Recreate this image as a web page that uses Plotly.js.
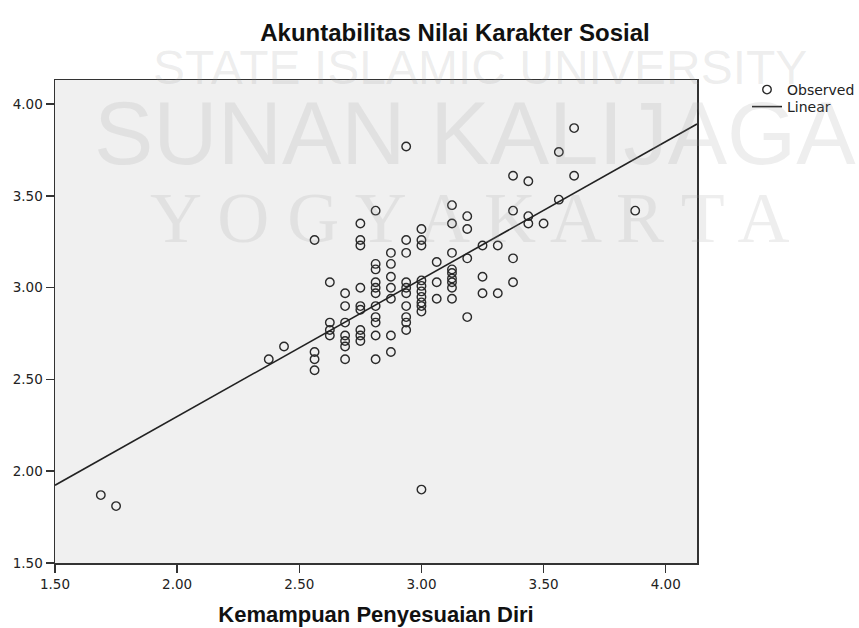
<!DOCTYPE html>
<html>
<head>
<meta charset="utf-8">
<script src="https://cdn.plot.ly/plotly-3.0.1.min.js"></script>
<style>html,body{margin:0;padding:0;background:#fff;}#chart{width:859px;height:628px;}</style>
</head>
<body>
<div id="chart"></div>
<script>
// Distinct x values (Kemampuan Penyesuaian Diri)
const obsXColumns = [1.6875, 1.75, 2.375, 2.4375, 2.5625, 2.625, 2.6875, 2.75, 2.8125, 2.875,
  2.9375, 3.0, 3.0625, 3.125, 3.1875, 3.25, 3.3125, 3.375, 3.4375, 3.5, 3.5625, 3.625, 3.875];
// Observed y values (Akuntabilitas Nilai Karakter Sosial) for each x column
const obsYColumns = [
  [1.87],
  [1.81],
  [2.61],
  [2.68],
  [3.26, 2.65, 2.61, 2.55],
  [3.03, 2.81, 2.77, 2.74],
  [2.97, 2.90, 2.81, 2.74, 2.71, 2.68, 2.61],
  [3.35, 3.26, 3.23, 3.00, 2.90, 2.88, 2.77, 2.74, 2.71],
  [3.42, 3.13, 3.10, 3.03, 3.00, 2.97, 2.90, 2.84, 2.81, 2.74, 2.61],
  [3.19, 3.13, 3.06, 3.00, 2.94, 2.74, 2.65],
  [3.77, 3.26, 3.19, 3.03, 3.00, 2.97, 2.90, 2.84, 2.81, 2.77],
  [3.32, 3.26, 3.23, 3.04, 3.01, 2.98, 2.95, 2.92, 2.90, 2.87, 1.90],
  [3.14, 3.03, 2.94],
  [3.45, 3.35, 3.19, 3.10, 3.08, 3.05, 3.03, 3.00, 2.94],
  [3.39, 3.32, 3.16, 2.84],
  [3.23, 3.06, 2.97],
  [3.23, 2.97],
  [3.61, 3.42, 3.16, 3.03],
  [3.58, 3.39, 3.35],
  [3.35],
  [3.74, 3.48],
  [3.87, 3.61],
  [3.42]
];
// Linear fit
const fitIntercept = 0.800;
const fitSlope = 0.749;
// Axes
const xRange = [1.5, 4.128];
const yRange = [1.5, 4.132];
const xTicks = [1.5, 2.0, 2.5, 3.0, 3.5, 4.0];
const yTicks = [1.5, 2.0, 2.5, 3.0, 3.5, 4.0];
const chartTitle = 'Akuntabilitas Nilai Karakter Sosial';
const xTitle = 'Kemampuan Penyesuaian Diri';
const legendNames = ['Observed', 'Linear'];
const watermarkLines = ['STATE ISLAMIC UNIVERSITY', 'SUNAN KALIJAGA', 'Y O G Y A K A R T A'];

const obsX = [], obsY = [];
obsXColumns.forEach((x, i) => obsYColumns[i].forEach(y => { obsX.push(x); obsY.push(y); }));
const lineX = xRange.slice();
const lineY = lineX.map(x => fitIntercept + fitSlope * x);

const W = 859, H = 628, ML = 55, MR = 162, MT = 80, MB = 65;
const pw = W - ML - MR, ph = H - MT - MB;
const px = v => (v - ML) / pw;
const py = v => (H - MB - v) / ph;

const wmColor = 'rgba(150,150,150,0.16)';
const traces = [
  {x: obsX, y: obsY, type: 'scatter', mode: 'markers', name: legendNames[0], legend: 'legend',
   marker: {symbol: 'circle-open', size: 8.5, color: '#2a2a2a', line: {width: 1.4, color: '#2a2a2a'}},
   hoverinfo: 'x+y'},
  {x: lineX, y: lineY, type: 'scatter', mode: 'lines', name: legendNames[1], legend: 'legend2',
   line: {color: '#222', width: 1.6}}
];

const legendCommon = {xanchor: 'left', yanchor: 'middle', bgcolor: 'rgba(0,0,0,0)',
  font: {size: 14, color: '#222'}, itemwidth: 30, borderwidth: 0};

const layout = {
  width: W, height: H,
  margin: {l: ML, r: MR, t: MT, b: MB, pad: 0, autoexpand: false},
  paper_bgcolor: '#ffffff', plot_bgcolor: '#f0f0f0',
  font: {family: 'DejaVu Sans, sans-serif', color: '#222'},
  title: {text: chartTitle, x: px(455), xref: 'paper', xanchor: 'center', y: 1 - 33 / H, yanchor: 'middle',
          font: {family: 'Liberation Sans, Arial, sans-serif', size: 24, weight: 'bold', color: '#111'}},
  xaxis: {range: xRange, tickvals: xTicks, tickformat: '.2f', ticks: 'outside', ticklen: 8, tickwidth: 1.5,
          tickcolor: '#333', showline: true, mirror: true, linecolor: '#333', linewidth: 1.5,
          showgrid: false, zeroline: false, tickfont: {size: 13.5, color: '#222'}, automargin: false,
          title: {text: xTitle, standoff: 16, font: {family: 'Liberation Sans, Arial, sans-serif', size: 22, weight: 'bold', color: '#111'}}},
  yaxis: {range: yRange, tickvals: yTicks, tickformat: '.2f', ticks: 'outside', ticklen: 8, tickwidth: 1.5,
          tickcolor: '#333', showline: true, mirror: true, linecolor: '#333', linewidth: 1.5, automargin: false,
          showgrid: false, zeroline: false, tickfont: {size: 13.5, color: '#222'}},
  showlegend: true,
  legend: Object.assign({}, legendCommon, {x: px(747), y: py(90)}),
  legend2: Object.assign({}, legendCommon, {x: px(747), y: py(107)}),
  annotations: [
    {text: watermarkLines[0], xref: 'paper', yref: 'paper', x: px(480), y: py(68), xanchor: 'center', yanchor: 'middle',
     showarrow: false, font: {family: 'Liberation Sans, sans-serif', size: 48, color: wmColor}},
    {text: watermarkLines[1], xref: 'paper', yref: 'paper', x: px(475), y: py(133), xanchor: 'center', yanchor: 'middle',
     showarrow: false, font: {family: 'Liberation Sans, sans-serif', size: 89, color: wmColor}},
    {text: watermarkLines[2], xref: 'paper', yref: 'paper', x: px(470), y: py(218), xanchor: 'center', yanchor: 'middle',
     showarrow: false, font: {family: 'Liberation Serif, serif', size: 72, color: wmColor}}
  ]
};

Plotly.newPlot('chart', traces, layout, {displayModeBar: false, staticPlot: true});
</script>
</body>
</html>
